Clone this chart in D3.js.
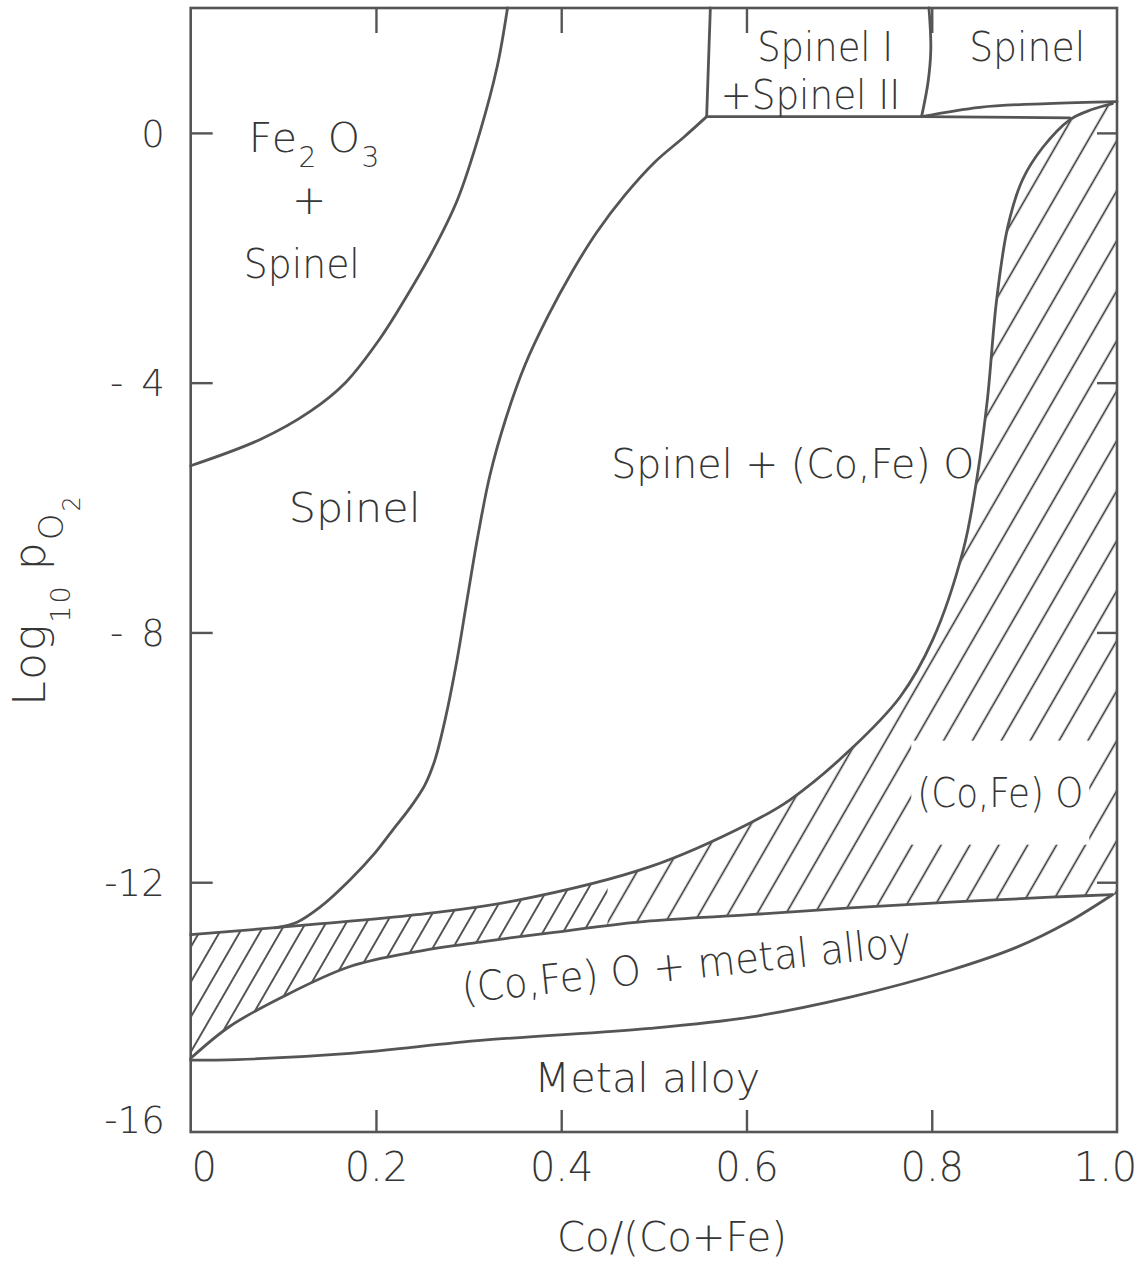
<!DOCTYPE html>
<html><head><meta charset="utf-8">
<script src="https://cdn.jsdelivr.net/npm/d3@7"></script>
<style>
html,body{margin:0;padding:0;background:#fff;}
svg{display:block;}
text{font-family:"DejaVu Sans","Liberation Sans",sans-serif;font-weight:200;fill:#363636;}
</style></head><body>
<svg id="chart" width="1142" height="1263"></svg>
<script>
// ---------- data ----------
const xTicks = [0, 0.2, 0.4, 0.6, 0.8, 1.0];
const xTickLabels = ["0", "0.2", "0.4", "0.6", "0.8", "1.0"];
const yTicks = [0, -4, -8, -12, -16];
const yTickLabels = ["0", "- 4", "- 8", "-12", "-16"];
const innerXTicks = [0.2, 0.4, 0.6, 0.8];
const innerYTicks = [0, -4, -8, -12];

// boundary curves: [Co/(Co+Fe), log10 pO2]
const fe2o3SpinelLine = [[0,-5.33],[0.075,-4.91],[0.129,-4.46],[0.167,-4.0],[0.205,-3.28],[0.233,-2.62],[0.262,-1.87],[0.288,-1.07],[0.312,0.0],[0.331,1.07],[0.342,2.0]];
const spinelSideLine = [[0.557,0.26],[0.5326,-0.066],[0.5012,-0.466],[0.4689,-0.994],[0.4386,-1.587],[0.4116,-2.227],[0.3858,-2.932],[0.3609,-3.717],[0.3404,-4.566],[0.3231,-5.479],[0.3102,-6.44],[0.2983,-7.48],[0.2875,-8.44],[0.2746,-9.40],[0.2637,-10.04],[0.2529,-10.44],[0.2367,-10.81],[0.2183,-11.16],[0.199,-11.53],[0.1721,-11.96],[0.1396,-12.40],[0.1148,-12.64],[0.091,-12.73]];
const oxideUpperLine = [[0,-12.84],[0.129,-12.68],[0.244,-12.52],[0.352,-12.29],[0.496,-11.75],[0.604,-11.05],[0.647,-10.68],[0.712,-9.88],[0.766,-9.03],[0.801,-8.12],[0.834,-6.68],[0.849,-5.51],[0.86,-4.28],[0.87,-2.68],[0.882,-1.51],[0.898,-0.75],[0.92,-0.23],[0.949,0.21],[0.972,0.37],[0.995,0.47]];
const oxideLowerLine = [[0,-14.82],[0.042,-14.31],[0.1,-13.83],[0.172,-13.35],[0.244,-13.11],[0.316,-12.95],[0.388,-12.81],[0.496,-12.62],[0.604,-12.52],[0.712,-12.41],[0.82,-12.32],[0.928,-12.24],[0.995,-12.2]];
const metalAlloyLine = [[0,-14.85],[0.05,-14.84],[0.172,-14.74],[0.316,-14.53],[0.496,-14.34],[0.604,-14.16],[0.712,-13.84],[0.82,-13.41],[0.892,-13.04],[0.946,-12.65],[0.995,-12.2]];
const spinelLowerLine = [[0.789,0.26],[0.852,0.41],[0.925,0.47],[1.0,0.5]];
const twoPhaseTopLine = [[0.557,0.26],[0.789,0.26],[0.949,0.24]];
const spinelBoxLeft = [[0.557,0.26],[0.561,2.0]];
const spinelBoxRight = [[0.789,0.26],[0.796,0.81],[0.799,1.34],[0.797,2.0]];

// ---------- layout ----------
const svg = d3.select("#chart");
const x = d3.scaleLinear().domain([0, 1]).range([190.7, 1117]);
const y = d3.scaleLinear().domain([-16, 2]).range([1132, 8]);
const lineColor = "#555";

const curve = d3.line().x(d => x(d[0])).y(d => y(d[1])).curve(d3.curveCatmullRom.alpha(0.5));
const straight = d3.line().x(d => x(d[0])).y(d => y(d[1]));

// ---------- hatch patterns ----------
const defs = svg.append("defs");
function hatch(id, s) {
  const p = defs.append("pattern").attr("id", id).attr("patternUnits", "userSpaceOnUse")
    .attr("width", s).attr("height", s).attr("patternTransform", "rotate(30)");
  p.append("line").attr("x1", s / 2).attr("y1", -1).attr("x2", s / 2).attr("y2", s + 1)
    .attr("stroke", "#2e2e2e").attr("stroke-width", 1.6);
}
hatch("hatchDense", 17.5);
hatch("hatchWide", 25);

const hatchPath = curve(oxideUpperLine)
  + "L" + x(1) + "," + y(0.5)
  + "L" + x(1) + "," + y(-12.2)
  + curve(oxideLowerLine.slice().reverse()).replace(/^M/, "L") + "Z";
defs.append("clipPath").attr("id", "hatchClip").append("path").attr("d", hatchPath);

const hg = svg.append("g").attr("clip-path", "url(#hatchClip)");
hg.append("rect").attr("x", x(0)).attr("y", y(2)).attr("width", x(0.45) - x(0)).attr("height", y(-16) - y(2)).attr("fill", "url(#hatchDense)");
hg.append("rect").attr("x", x(0.45)).attr("y", y(2)).attr("width", x(1) - x(0.45)).attr("height", y(-16) - y(2)).attr("fill", "url(#hatchWide)");

// ---------- boundary lines ----------
const lines = svg.append("g").attr("fill", "none").attr("stroke", lineColor).attr("stroke-width", 2.8).attr("stroke-linejoin", "round").attr("stroke-linecap", "round");
[fe2o3SpinelLine, spinelSideLine, oxideUpperLine, oxideLowerLine, metalAlloyLine, spinelLowerLine, spinelBoxRight].forEach(d => lines.append("path").attr("d", curve(d)));
[twoPhaseTopLine, spinelBoxLeft].forEach(d => lines.append("path").attr("d", straight(d)));

// ---------- axes ----------
function styleAxis(g) {
  g.select(".domain").remove();
  g.selectAll(".tick line").attr("stroke", lineColor).attr("stroke-width", 2.4);
  g.selectAll("text").attr("fill", "#363636").attr("font-family", null).attr("font-size", null);
}
const bottom = svg.append("g").attr("transform", `translate(0,${y(-16)})`)
  .call(d3.axisBottom(x).tickValues(xTicks).tickSizeInner(-22).tickSizeOuter(0).tickPadding(21)
    .tickFormat((d, i) => xTickLabels[i]))
  .call(styleAxis);
bottom.selectAll("text").style("font-size", "40px");
bottom.selectAll(".tick").filter(d => d === 0 || d === 1).select("line").remove();
bottom.selectAll(".tick").filter(d => d === 0).select("text").attr("dx", 13);
bottom.selectAll(".tick").filter(d => d === 1).select("text").attr("dx", -12);

const left = svg.append("g").attr("transform", `translate(${x(0)},0)`)
  .call(d3.axisLeft(y).tickValues(yTicks).tickSizeInner(-22).tickSizeOuter(0).tickPadding(26)
    .tickFormat((d, i) => yTickLabels[i]))
  .call(styleAxis);
left.selectAll("text").style("font-size", "37px").attr("dy", "0.36em").style("word-spacing", "6px");
left.selectAll(".tick").filter(d => d === -16).select("line").remove();
left.selectAll(".tick").filter(d => d === -16).select("text").attr("dy", "0.0em");

svg.append("g").attr("transform", `translate(0,${y(2)})`)
  .call(d3.axisTop(x).tickValues(innerXTicks).tickSizeInner(-25).tickSizeOuter(0).tickFormat(""))
  .call(styleAxis);
svg.append("g").attr("transform", `translate(${x(1)},0)`)
  .call(d3.axisRight(y).tickValues(innerYTicks).tickSizeInner(-20).tickSizeOuter(0).tickFormat(""))
  .call(styleAxis);

// frame
svg.append("rect").attr("x", x(0)).attr("y", y(2)).attr("width", x(1) - x(0)).attr("height", y(-16) - y(2))
  .attr("fill", "none").attr("stroke", lineColor).attr("stroke-width", 2.6);

// ---------- region labels ----------
const lab = svg.append("g").attr("text-anchor", "middle").style("font-size", "41px");
function label(t, px, py, w) {
  return lab.append("text").attr("x", px).attr("y", py).attr("textLength", w)
    .attr("lengthAdjust", "spacingAndGlyphs").text(t);
}

// Fe2O3 + Spinel
const fe = lab.append("text").attr("x", x(0.134)).attr("y", y(-0.30)).style("letter-spacing", "1.5px");
fe.append("tspan").text("Fe");
fe.append("tspan").attr("dy", 15).style("font-size", "28px").text("2");
fe.append("tspan").attr("dy", -15).attr("dx", 10).text("O");
fe.append("tspan").attr("dy", 15).style("font-size", "28px").text("3");
lab.append("text").attr("x", x(0.128)).attr("y", y(-1.07)).attr("dy", "0.35em").text("+");
label("Spinel", x(0.12), y(-2.32), 116);

label("Spinel", x(0.177), y(-6.23), 132);
label("Spinel I", x(0.685), y(1.15), 136);
label("+Spinel II", x(0.669), y(0.38), 180);
label("Spinel", x(0.903), y(1.15), 116);
label("Spinel + (Co,Fe) O", x(0.65), y(-5.52), 363);

// (Co,Fe)O label with white gap in hatching
const coT = label("(Co,Fe) O", x(0.874), y(-10.79), 166);
const bb = coT.node().getBBox();
lab.insert("rect", "text").attr("x", bb.x - 6).attr("y", bb.y - 28).attr("width", bb.width + 12).attr("height", bb.height + 56).attr("fill", "#fff");

lab.append("text").attr("transform", `translate(${x(0.537)},${y(-13.55)}) rotate(-6)`)
  .attr("textLength", 452).attr("lengthAdjust", "spacingAndGlyphs").text("(Co,Fe) O + metal alloy");
label("Metal alloy", x(0.493), y(-15.36), 226);

// ---------- axis titles ----------
svg.append("text").attr("x", 672).attr("y", 1251).attr("text-anchor", "middle").style("font-size", "41px")
  .attr("textLength", 230).attr("lengthAdjust", "spacingAndGlyphs").text("Co/(Co+Fe)");

const yt = svg.append("text").attr("transform", "translate(45,600) rotate(-90)").attr("text-anchor", "middle").style("font-size", "44px").style("letter-spacing", "2px");
yt.append("tspan").text("Log");
yt.append("tspan").attr("dy", 25).style("font-size", "27px").text("10");
yt.append("tspan").attr("dy", -25).attr("dx", 14).text("p");
yt.append("tspan").attr("dy", 18).style("font-size", "34px").text("O");
yt.append("tspan").attr("dy", 17).style("font-size", "24px").text("2");
</script>
</body></html>
